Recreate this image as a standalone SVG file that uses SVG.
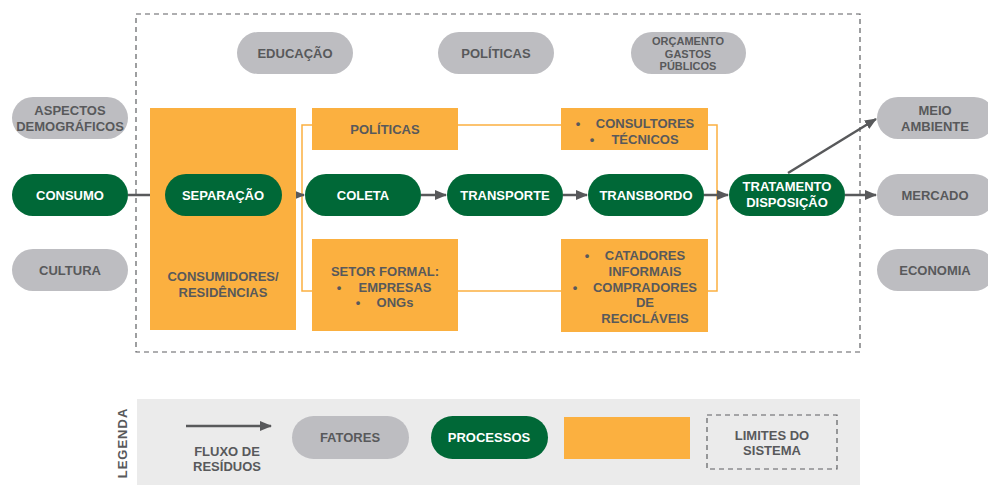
<svg xmlns="http://www.w3.org/2000/svg" width="988" height="485" viewBox="0 0 988 485">
<defs>
<marker id="ah" viewBox="0 0 12 10" refX="11" refY="5" markerWidth="4.8" markerHeight="4" markerUnits="strokeWidth" orient="auto">
<path d="M0,0 L12,5 L0,10 z" fill="#58595b"/>
</marker>
<style>
text{font-family:"Liberation Sans",Arial,sans-serif;font-weight:700;font-size:13px;text-anchor:middle}
.g{fill:#bdbdc1}
.p{fill:#006837}
.o{fill:#fbb040}
.tw{fill:#ffffff}
.td{fill:#58595b}
.sm{font-size:11px}
.fl{stroke:#58595b;stroke-width:2.5;fill:none;marker-end:url(#ah)}
.ol{stroke:#fbb040;stroke-width:1.5;fill:none}
.db{stroke:#5e5f62;stroke-width:1.2;fill:none;stroke-dasharray:5 4}
</style>
</defs>
<rect width="988" height="485" fill="#ffffff"/>
<g id="boundary"><rect class="db" x="136" y="14" width="724" height="338"/></g>
<g id="connectors">
<path class="ol" d="M312,125 H302 V291 H312 M458,125 H561 M708,125 H717 V291 H708 M458,291 H561"/>
<line class="fl" x1="128" y1="195" x2="164" y2="195"/>
<line class="fl" x1="282" y1="195" x2="304" y2="195"/>
<line class="fl" x1="421" y1="195" x2="446" y2="195"/>
<line class="fl" x1="563" y1="195" x2="587" y2="195"/>
<line class="fl" x1="704" y1="195" x2="728" y2="195"/>
<line class="fl" x1="845" y1="195" x2="876" y2="195"/>
<line class="fl" x1="788" y1="173" x2="876" y2="119"/>
</g>
<g id="consumidores"><rect class="o" x="150" y="108" width="146" height="222"/><text class="td" x="223" y="281">CONSUMIDORES/</text><text class="td" x="223" y="297">RESIDÊNCIAS</text></g>
<g id="o-politicas"><rect class="o" x="312" y="108" width="146" height="42"/><text class="td" x="385" y="134">POLÍTICAS</text></g>
<g id="o-consultores"><rect class="o" x="561" y="108" width="147" height="42"/><text class="td" x="578" y="128">•</text><text class="td" x="645" y="128">CONSULTORES</text><text class="td" x="592" y="144">•</text><text class="td" x="645" y="144">TÉCNICOS</text></g>
<g id="o-setor"><rect class="o" x="312" y="239" width="146" height="92"/><text class="td" x="385" y="276">SETOR FORMAL:</text><text class="td" x="339" y="292">•</text><text class="td" x="395" y="292">EMPRESAS</text><text class="td" x="358" y="307">•</text><text class="td" x="395" y="307">ONGs</text></g>
<g id="o-catadores"><rect class="o" x="561" y="239" width="147" height="93"/><text class="td" x="587" y="260">•</text><text class="td" x="645" y="260">CATADORES</text><text class="td" x="645" y="276">INFORMAIS</text><text class="td" x="575" y="292">•</text><text class="td" x="645" y="292">COMPRADORES</text><text class="td" x="645" y="307">DE</text><text class="td" x="645" y="323">RECICLÁVEIS</text></g>
<g id="educacao"><rect class="g" x="237" y="32" width="116" height="42" rx="21"/><text class="td" x="295" y="58">EDUCAÇÃO</text></g>
<g id="politicas"><rect class="g" x="438" y="32" width="116" height="42" rx="21"/><text class="td" x="496" y="58">POLÍTICAS</text></g>
<g id="orcamento"><rect class="g" x="631" y="32" width="115" height="42" rx="21"/><text class="td sm" x="688" y="45">ORÇAMENTO</text><text class="td sm" x="688" y="57.5">GASTOS</text><text class="td sm" x="688" y="70">PÚBLICOS</text></g>
<g id="aspectos"><rect class="g" x="12" y="97" width="116" height="42" rx="21"/><text class="td" x="70" y="115">ASPECTOS</text><text class="td" x="70" y="131">DEMOGRÁFICOS</text></g>
<g id="cultura"><rect class="g" x="12" y="249" width="116" height="42" rx="21"/><text class="td" x="70" y="275">CULTURA</text></g>
<g id="consumo"><rect class="p" x="12" y="174" width="116" height="42" rx="21"/><text class="tw" x="70" y="200">CONSUMO</text></g>
<g id="separacao"><rect class="p" x="165" y="174" width="117" height="42" rx="21"/><text class="tw" x="223" y="200">SEPARAÇÃO</text></g>
<g id="coleta"><rect class="p" x="305" y="174" width="116" height="42" rx="21"/><text class="tw" x="363" y="200">COLETA</text></g>
<g id="transporte"><rect class="p" x="447" y="174" width="116" height="42" rx="21"/><text class="tw" x="505" y="200">TRANSPORTE</text></g>
<g id="transbordo"><rect class="p" x="588" y="174" width="116" height="42" rx="21"/><text class="tw" x="646" y="200">TRANSBORDO</text></g>
<g id="tratamento"><rect class="p" x="729" y="174" width="116" height="42" rx="21"/><text class="tw" x="787" y="191">TRATAMENTO</text><text class="tw" x="787" y="207">DISPOSIÇÃO</text></g>
<g id="meio"><rect class="g" x="877" y="97" width="118" height="42" rx="21"/><text class="td" x="935" y="115">MEIO</text><text class="td" x="935" y="131">AMBIENTE</text></g>
<g id="mercado"><rect class="g" x="877" y="174" width="118" height="42" rx="21"/><text class="td" x="935" y="200">MERCADO</text></g>
<g id="economia"><rect class="g" x="877" y="249" width="118" height="42" rx="21"/><text class="td" x="935" y="275">ECONOMIA</text></g>
<g id="legenda">
<rect x="137" y="399" width="723" height="86" fill="#ebebeb"/>
<text class="td" transform="translate(127,443) rotate(-90)" style="letter-spacing:1px">LEGENDA</text>
<line class="fl" x1="186" y1="426" x2="271" y2="426"/>
<text class="td" x="227" y="456">FLUXO DE</text>
<text class="td" x="227" y="471">RESÍDUOS</text>
<rect class="g" x="292" y="416" width="117" height="43" rx="21.5"/><text class="td" x="350" y="442">FATORES</text>
<rect class="p" x="431" y="416" width="117" height="43" rx="21.5"/><text class="tw" x="489" y="442">PROCESSOS</text>
<rect class="o" x="564" y="417" width="126" height="42"/>
<rect class="db" x="707" y="415" width="130" height="54"/>
<text class="td" x="772" y="440">LIMITES DO</text>
<text class="td" x="772" y="455">SISTEMA</text>
</g>
</svg>
